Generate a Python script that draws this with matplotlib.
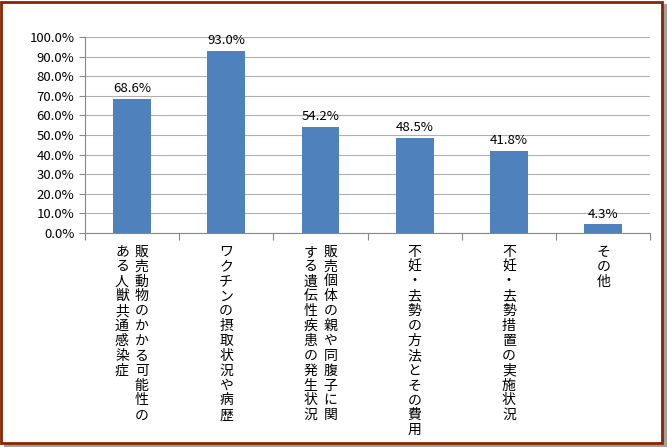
import matplotlib.pyplot as plt
from matplotlib.patches import Rectangle

plt.rcParams["font.family"] = ["Noto Sans CJK JP", "DejaVu Sans"]

categories = [
    ["販売動物のかかる可能性の", "ある人獣共通感染症"],
    ["ワクチンの摂取状況や病歴"],
    ["販売個体の親や同腹子に関", "する遺伝性疾患の発生状況"],
    ["不妊・去勢の方法とその費用"],
    ["不妊・去勢措置の実施状況"],
    ["その他"],
]
values = [68.6, 93.0, 54.2, 48.5, 41.8, 4.3]

fig = plt.figure(figsize=(6.67, 4.47), dpi=100)
# shadow and dark red frame
fig.patches.append(Rectangle((0.006, 0.0), 0.994, 0.99, transform=fig.transFigure,
                             facecolor="#a0a0a0", edgecolor="none", zorder=-2))
fig.patches.append(Rectangle((0.002, 0.008), 0.99, 0.988, transform=fig.transFigure,
                             facecolor="white", edgecolor="#8B2500", linewidth=2, zorder=-1))

ax = fig.add_axes([0.127, 0.479, 0.848, 0.438])
x = range(len(values))
ax.bar(x, values, width=0.4, color="#4F81BD", zorder=2)
for i, v in enumerate(values):
    ax.text(i, v + 2, f"{v:.1f}%", ha="center", va="bottom", fontsize=9.5)

ax.set_xlim(-0.5, len(values) - 0.5)
ax.set_ylim(0, 100)
ax.set_yticks(range(0, 101, 10))
ax.set_yticklabels([f"{t:.1f}%" for t in range(0, 101, 10)], fontsize=9.5)
ax.yaxis.grid(True, color="#b0b0b0", linewidth=0.8, zorder=0)
ax.set_xticks([i - 0.5 for i in range(len(values) + 1)])
ax.set_xticklabels([])
ax.tick_params(axis="x", length=5, color="#888888")
ax.tick_params(axis="y", length=4, color="#888888")
for s in ["top", "right"]:
    ax.spines[s].set_visible(False)
for s in ["left", "bottom"]:
    ax.spines[s].set_color("#888888")

# vertical Japanese labels, first column on the right
col_gap = 0.21
for i, cols in enumerate(categories):
    n = len(cols)
    for j, col in enumerate(cols):
        xpos = i + (n - 1) / 2 * col_gap - j * col_gap
        ax.text(xpos, -6, "\n".join(col), ha="center", va="top", fontsize=10,
                linespacing=1.08, transform=ax.transData, clip_on=False)

fig.savefig("out.png", dpi=100)
